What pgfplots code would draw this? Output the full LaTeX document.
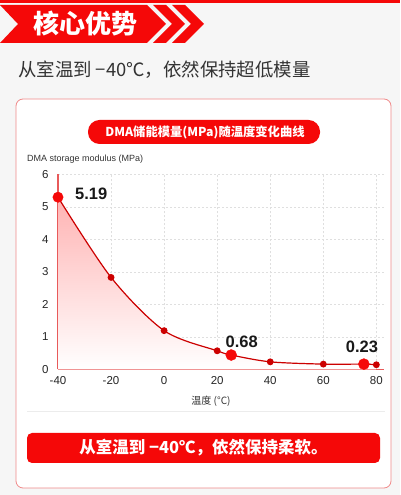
\documentclass[border=0pt]{standalone}
\usepackage{pgfplots}
\pgfplotsset{compat=1.18}
\usepackage{fontspec}
\setmainfont{Liberation Sans}
\newfontfamily\cjk{Noto Sans CJK SC}
\definecolor{bgred}{HTML}{F50808}
\definecolor{axisred}{HTML}{E85A5A}
\definecolor{curvered}{HTML}{CC0000}
\definecolor{cardborder}{HTML}{F08A8A}
\definecolor{txt}{HTML}{333333}
\pgfplotstableread{
x y
-40 5.30
-20 2.83
0 1.19
20 0.57
25.3 0.44
40 0.23
60 0.16
75.3 0.16
80 0.14
}\curvedata
\begin{document}
\begin{tikzpicture}[x=1pt,y=1pt]
\fill[gray!7] (0,0) rectangle (400,495);
\fill[bgred] (0,492) rectangle (400,495);
% banner
\fill[bgred] (0,490) -- (147,490) -- (166,471) -- (147,452) -- (0,452) -- (18,471) -- cycle;
\fill[bgred] (153,490) -- (166,490) -- (185,471) -- (166,452) -- (153,452) -- (172,471) -- cycle;
\fill[bgred] (172,490) -- (185,490) -- (204,471) -- (185,452) -- (172,452) -- (191,471) -- cycle;
\node[text=white, font=\cjk\bfseries\fontsize{26}{30}\selectfont, inner sep=0] at (85,471) {核心优势};
\node[anchor=west, text=txt, font=\cjk\fontsize{18.4}{21}\selectfont, inner sep=0] at (18,425) {从室温到 −40℃，依然保持超低模量};
% card
\draw[draw=cardborder, fill=white, rounded corners=7, line width=0.8] (16,7) rectangle (391,396);
\fill[bgred, rounded corners=11.5] (88,351) rectangle (320,375);
\node[text=white, font=\cjk\bfseries\fontsize{12.3}{14}\selectfont, inner sep=0] at (205,363) {DMA储能模量(MPa)随温度变化曲线};
\node[anchor=west, text=txt, font=\fontsize{9}{11}\selectfont, inner sep=0] at (27,336) {DMA storage modulus (MPa)};
\begin{axis}[
  at={(58pt,125.7pt)}, anchor=south west,
  scale only axis, width=325.5pt, height=194.8pt,
  xmin=-40, xmax=82.7, ymin=0, ymax=6,
  axis x line=bottom, axis y line=left,
  axis line style={-, draw=axisred, line width=1.3pt},
  xtick={-40,-20,0,20,40,60,80}, ytick={0,1,2,3,4,5,6},
  major tick length=0,
  grid=major, grid style={dash pattern=on 2pt off 2pt, gray!25, line width=0.5pt},
  tick label style={font=\fontsize{11.5}{13}\selectfont, text=black!85},
  /pgf/number format/assume math mode=true,
  yticklabel style={xshift=-6pt},
  xticklabel style={yshift=-4pt},
  xlabel={温度 (°C)},
  xlabel style={at={(axis description cs:0.47,0)}, anchor=center, yshift=-32pt, font=\cjk\fontsize{10}{12}\selectfont, text=txt},
  clip=false,
]
\addplot[draw=none, top color=red!30, bottom color=white, smooth] table[x=x,y=y] {\curvedata} \closedcycle;
\addplot[smooth, color=curvered, line width=1.2pt, mark=*, mark size=2.8pt, mark options={fill=curvered, draw=curvered}] table[x=x,y=y] {\curvedata};
\addplot[only marks, mark=*, mark size=5.2pt, color=bgred, mark options={fill=bgred},
  nodes near coords={5.19}, nodes near coords style={anchor=west, inner sep=0, xshift=17pt, yshift=3pt, text=black!90, font=\bfseries\fontsize{16.5}{18}\selectfont}]
  coordinates {(-40,5.30)};
\addplot[only marks, mark=*, mark size=5.5pt, color=bgred, mark options={fill=bgred},
  nodes near coords={0.68}, nodes near coords style={anchor=center, inner sep=0, xshift=10.5pt, yshift=13pt, text=black!90, font=\bfseries\fontsize{16.5}{18}\selectfont}]
  coordinates {(25.3,0.44)};
\addplot[only marks, mark=*, mark size=5.5pt, color=bgred, mark options={fill=bgred},
  nodes near coords={0.23}, nodes near coords style={anchor=center, inner sep=0, xshift=-2pt, yshift=17pt, text=black!90, font=\bfseries\fontsize{16.5}{18}\selectfont}]
  coordinates {(75.3,0.16)};
\end{axis}
\draw[gray!15, line width=0.6] (27,84) -- (385,84);
\fill[bgred, rounded corners=5] (27,32) rectangle (380,62);
\node[text=white, font=\cjk\bfseries\fontsize{16.5}{19}\selectfont, inner sep=0] at (203.5,47) {从室温到 −40℃，依然保持柔软。};
\pgfresetboundingbox
\useasboundingbox (0,0) rectangle (400,495);
\end{tikzpicture}
\end{document}
